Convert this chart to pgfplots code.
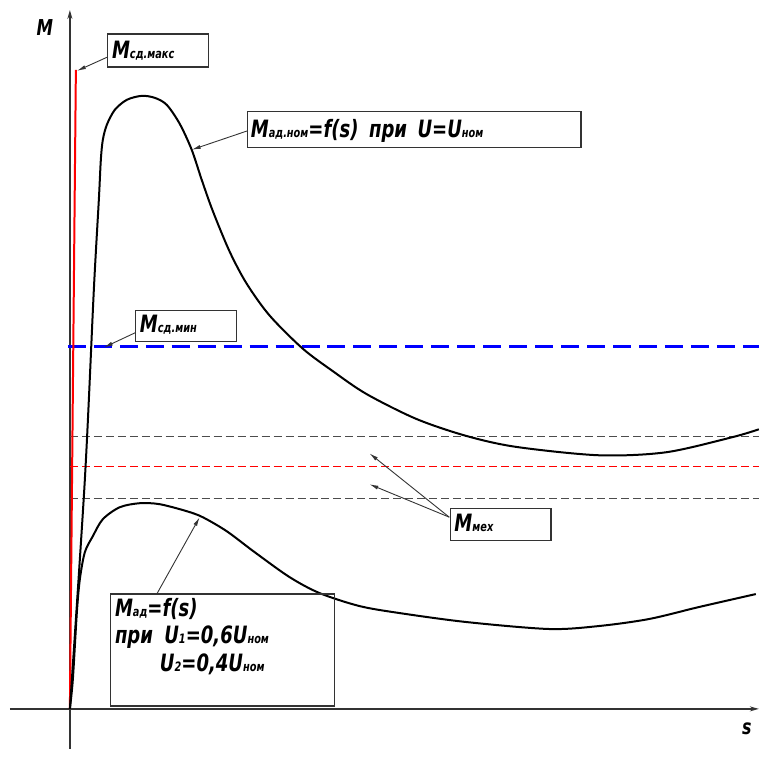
\documentclass[border=0pt]{standalone}
\usepackage{pgfplots}
\pgfplotsset{compat=1.18}
\usepackage{fontspec}
\setmainfont{DejaVu Sans Condensed}
\usetikzlibrary{arrows.meta}
\newcommand{\Bg}{\fontsize{24}{28}\selectfont}
\newcommand{\Sm}{\fontsize{13}{15}\selectfont}
\newcommand{\T}[1]{\scalebox{0.84}[1]{\bfseries\itshape #1}}
\begin{document}
\begin{tikzpicture}
\begin{axis}[scale only axis, width=760bp, height=758bp,
  xmin=0, xmax=760, ymin=0, ymax=758, hide axis, clip=false]
\path (axis cs:0,0) rectangle (axis cs:760,758);
% axes
\draw[line width=1.3bp, black!80, -{Stealth[length=9bp,width=5bp]}] (axis cs:10,48) -- (axis cs:760,48);
\draw[line width=1.3bp, black!80, -{Stealth[length=9bp,width=5bp]}] (axis cs:70,8) -- (axis cs:70,748);
% horizontal dashed lines
\addplot[blue, line width=2.4bp, dash pattern=on 18bp off 8bp] coordinates {(68,411) (760,411)};
\addplot[black!70, line width=1.2bp, dash pattern=on 8bp off 4bp] coordinates {(70,321) (760,321)};
\addplot[black!70, line width=1.2bp, dash pattern=on 8bp off 4bp] coordinates {(70,259) (760,259)};
\addplot[red, line width=1.2bp, dash pattern=on 8bp off 4bp] coordinates {(70,291) (760,291)};
% red vertical line
\addplot[red, line width=2bp] coordinates {(70,48) (76,688)};
% upper curve
\addplot[black, line width=2bp, smooth, tension=0.5] coordinates {
(70,48) (85,278) (94,468) (99,558) (101,598) (103,618) (107,633) (115,648)
(127,658) (142,662) (155,660) (167,653) (180,634) (192,608) (202,578)
(213,547) (230,506) (247,474) (270,442) (303,409) (333,386.5) (367,363.4)
(417,338.4) (467,321.4) (517,310.4) (600,302) (667,305) (733,320) (760,328)};
% lower curve
\addplot[black, line width=2bp, smooth, tension=0.5] coordinates {
(70,48) (73,78) (77,145) (80,178) (85,205) (93,221) (103,238) (120,250)
(140,254) (160,253) (187,246) (203,240) (227,226) (255,205) (290,180)
(320,164) (360,151) (400,144) (467,135) (550,128) (600,131) (650,138) (700,150) (757,163)};
% labels of axes
\node[anchor=base, font=\fontsize{22}{24}\selectfont] at (axis cs:45,722) {\T{M}};
\node[anchor=base, font=\fontsize{21}{24}\selectfont] at (axis cs:748,22) {\T{s}};
% boxes
\tikzset{bx/.style={draw=black!80, line width=1.3bp}, ar/.style={black!80, line width=0.9bp, -{Latex[length=9bp,width=4bp]}}}
\draw[bx] (axis cs:108,724) rectangle (axis cs:209,691);
\node[anchor=base west, inner sep=0pt] at (axis cs:112,699) {\T{\Bg М\Sm сд.макс}};
\draw[ar] (axis cs:108,701) -- (axis cs:77,687);

\draw[bx] (axis cs:248,646) rectangle (axis cs:582,610);
\node[anchor=base west, inner sep=0pt] at (axis cs:251,620) {\T{\Bg М\Sm ад.ном\Bg =f(s)\hspace{5bp} при\hspace{5bp} U=U\Sm ном}};
\draw[ar] (axis cs:248,627) -- (axis cs:192,608);

\draw[bx] (axis cs:136,447) rectangle (axis cs:237,416);
\node[anchor=base west, inner sep=0pt] at (axis cs:140,425) {\T{\Bg М\Sm сд.мин}};
\draw[ar] (axis cs:136,425) -- (axis cs:104,410);

\draw[bx] (axis cs:451,249) rectangle (axis cs:552,217);
\node[anchor=base west, inner sep=0pt] at (axis cs:455,226) {\T{\Bg М\Sm мех}};
\draw[ar] (axis cs:450,240) -- (axis cs:370,304);
\draw[ar] (axis cs:450,240) -- (axis cs:370,273);

\draw[bx] (axis cs:111,163) rectangle (axis cs:335,51);
\node[anchor=base west, inner sep=0pt] at (axis cs:115,141) {\T{\Bg М\Sm ад\Bg =f(s)}};
\node[anchor=base west, inner sep=0pt] at (axis cs:115,113) {\T{\Bg при\hspace{6bp} U\Sm 1\Bg =0,6U\Sm ном}};
\node[anchor=base west, inner sep=0pt] at (axis cs:160,85) {\T{\Bg U\Sm 2\Bg =0,4U\Sm ном}};
\draw[ar] (axis cs:157,163) -- (axis cs:200,240);
\end{axis}
\end{tikzpicture}
\end{document}
